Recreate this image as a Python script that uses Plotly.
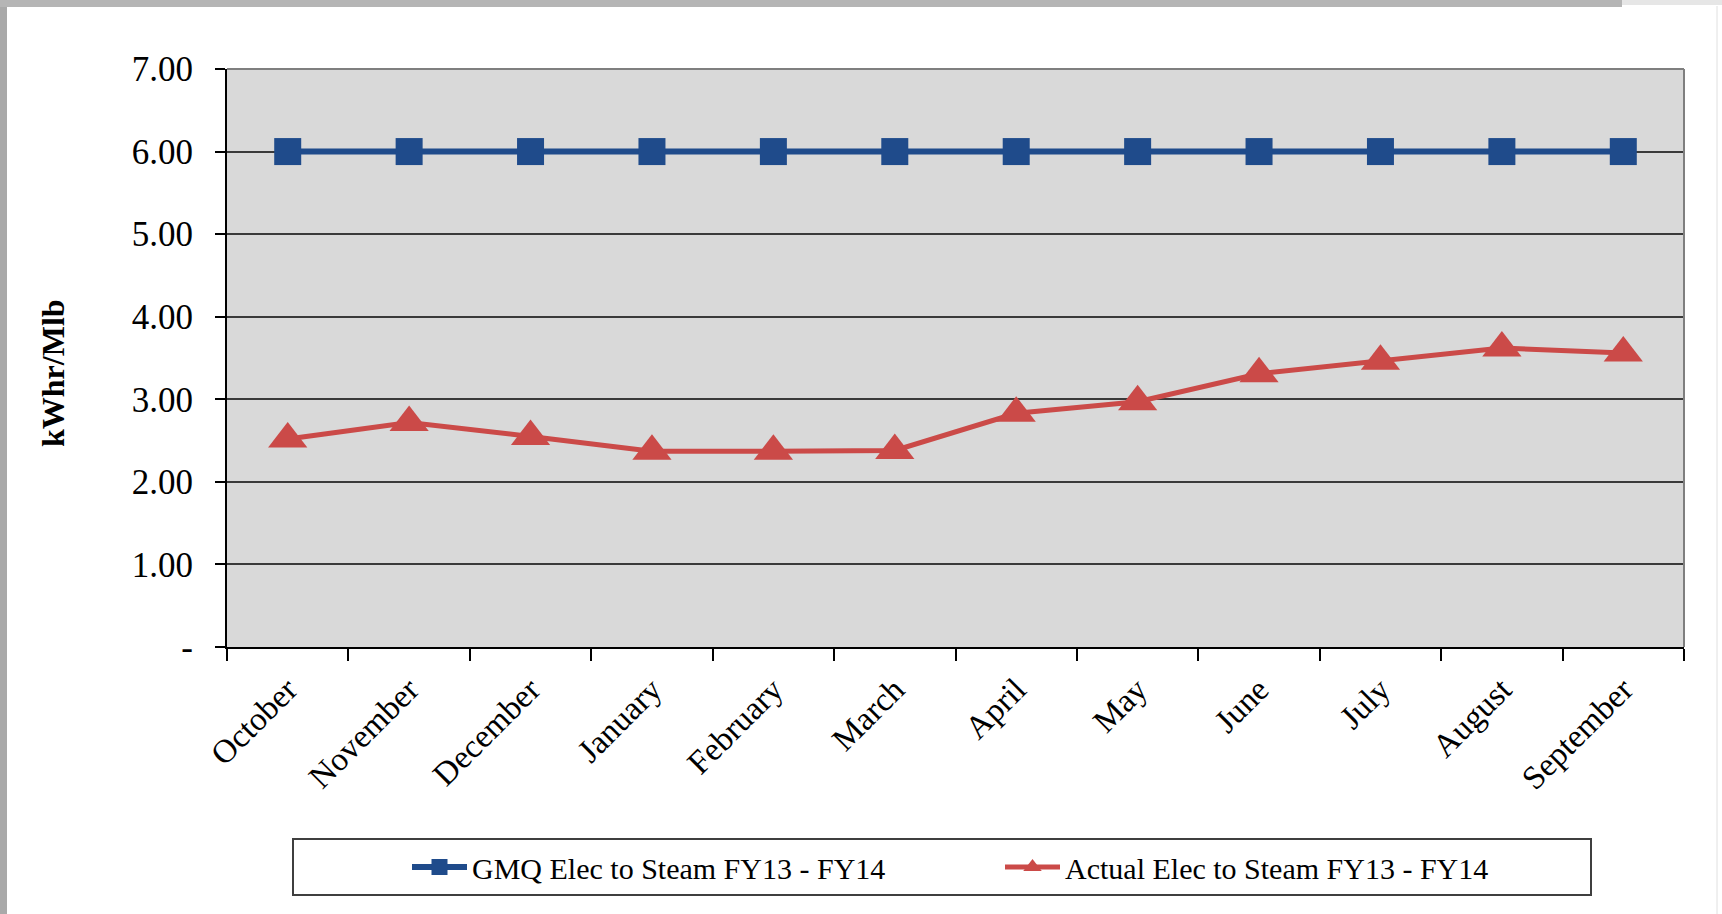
import plotly.graph_objects as go

MONTHS = ['October', 'November', 'December', 'January', 'February', 'March',
          'April', 'May', 'June', 'July', 'August', 'September']
GMQ = [6.00, 6.00, 6.00, 6.00, 6.00, 6.00, 6.00, 6.00, 6.00, 6.00, 6.00, 6.00]
ACTUAL = [2.52, 2.72, 2.55, 2.37, 2.37, 2.38, 2.83, 2.97, 3.31, 3.46, 3.62, 3.56]
Y_TICKS = [0, 1, 2, 3, 4, 5, 6, 7]
Y_TICKTEXT = ['-', '1.00', '2.00', '3.00', '4.00', '5.00', '6.00', '7.00']

W, H = 1722, 914
L, R, T, B = 227, 38, 69, 267
PW, PH = W - L - R, H - T - B

FONT = 'Liberation Serif, Times New Roman, serif'
BLUE = '#1F4B8B'
RED = '#CB4A48'


def px(x):
    # pixel x -> paper fraction
    return (x - L) / PW


def py(y):
    # pixel y -> paper fraction
    return (H - B - y) / PH


fig = go.Figure()
fig.add_trace(go.Scatter(
    x=MONTHS, y=GMQ, name='GMQ Elec to Steam FY13 - FY14', mode='lines+markers',
    line=dict(color=BLUE, width=6),
    marker=dict(symbol='square', size=27, color=BLUE)))
fig.add_trace(go.Scatter(
    x=MONTHS, y=ACTUAL, name='Actual Elec to Steam FY13 - FY14', mode='lines+markers',
    line=dict(color=RED, width=5),
    marker=dict(symbol='triangle-up', size=34, color=RED)))

shapes = [
    # plot border top / right (gray)
    dict(type='line', xref='paper', yref='paper', x0=0, x1=1, y0=1, y1=1,
         line=dict(color='#7F7F7F', width=2), layer='above'),
    dict(type='line', xref='paper', yref='paper', x0=1, x1=1, y0=0, y1=1,
         line=dict(color='#7F7F7F', width=2), layer='above'),
    # legend box
    dict(type='rect', xref='paper', yref='paper', x0=px(293), x1=px(1591),
         y0=py(895), y1=py(839), line=dict(color='#3F3F3F', width=2)),
    # outer frame strips
    dict(type='rect', xref='paper', yref='paper', x0=px(0), x1=px(7),
         y0=py(914), y1=py(0), line=dict(width=0), fillcolor='#A9A9A9'),
    dict(type='rect', xref='paper', yref='paper', x0=px(0), x1=px(1622),
         y0=py(7), y1=py(0), line=dict(width=0), fillcolor='#B5B5B5'),
    dict(type='rect', xref='paper', yref='paper', x0=px(1622), x1=px(1722),
         y0=py(5), y1=py(0), line=dict(width=0), fillcolor='#E6E6E6'),
    dict(type='line', xref='paper', yref='paper', x0=px(1717), x1=px(1717),
         y0=py(914), y1=py(6), line=dict(color='#E0E0E0', width=1)),
]

fig.update_layout(
    width=W, height=H, autosize=False,
    margin=dict(l=L, r=R, t=T, b=B, pad=0),
    paper_bgcolor='white', plot_bgcolor='#D9D9D9',
    font=dict(family=FONT, size=30, color='black'),
    showlegend=True,
    legend=dict(orientation='h', x=px(407), xanchor='left', y=py(867), yanchor='middle',
                bgcolor='rgba(0,0,0,0)', borderwidth=0,
                font=dict(family=FONT, size=30),
                entrywidth=523, itemwidth=55, traceorder='normal'),
    shapes=shapes,
    annotations=[dict(text='<b>kWhr/Mlb</b>', xref='paper', yref='paper',
                      x=px(53), y=py(373), xanchor='center', yanchor='middle',
                      textangle=-90, showarrow=False,
                      font=dict(size=32, family=FONT))],
)
fig.update_xaxes(
    type='category', range=[-0.5, len(MONTHS) - 0.5], tickangle=-45,
    tickfont=dict(family=FONT, size=33), ticklabelstandoff=8,
    showline=True, linecolor='black', linewidth=2,
    ticks='outside', tickson='boundaries', ticklen=12, tickcolor='black', tickwidth=1.5,
    showgrid=False, zeroline=False)
fig.update_yaxes(
    range=[0, 7], tickvals=Y_TICKS, ticktext=Y_TICKTEXT,
    tickfont=dict(family=FONT, size=35), ticklabelstandoff=15,
    showline=True, linecolor='black', linewidth=2,
    ticks='outside', ticklen=10, tickcolor='black', tickwidth=1.5,
    showgrid=True, gridcolor='#3A3A3A', gridwidth=2, zeroline=False)

fig.write_html('out.html', config={'displayModeBar': False},
               post_script="document.body.style.margin='0';")
